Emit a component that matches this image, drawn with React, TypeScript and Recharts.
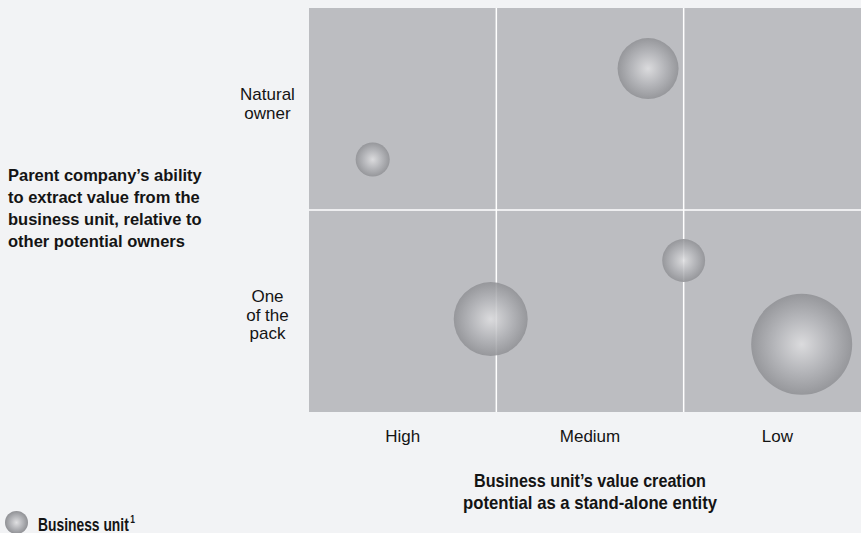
import {
  ScatterChart,
  Scatter,
  XAxis,
  YAxis,
  ZAxis,
  ReferenceArea,
  ReferenceLine,
  Legend,
  Label,
} from "recharts";

// columns: value creation potential, rows: ability to extract value
const VALUE_LEVELS: string[] = ["High", "Medium", "Low"];
const OWNER_LEVELS: string[] = ["One of the pack", "Natural owner"];

// one entry per business unit
const UNIT_VALUE_POS: number[] = [0.34, 1.81, 2.0, 0.97, 2.63];
const UNIT_OWNER_POS: number[] = [1.25, 1.7, 0.75, 0.46, 0.335];
const UNIT_SIZE: number[] = [290, 930, 460, 1370, 2550];

const PAGE_BG = "#f2f3f5";
const PLOT_BG = "#bcbdc1";
const TEXT = "#141414";
const SANS = '"Liberation Sans", Arial, sans-serif';

const data = UNIT_VALUE_POS.map((x, i) => ({
  x,
  y: UNIT_OWNER_POS[i],
  z: UNIT_SIZE[i],
}));

const MAX_Z = 3000;

const YTick = (props: any) => {
  const { x, y, payload } = props;
  const idx = Math.floor(payload.value);
  const label = OWNER_LEVELS[idx] ?? "";
  const lines = idx === 0 ? ["One", "of the", "pack"] : label.split(" ");
  return (
    <text x={x - 41.5} y={y} textAnchor="middle" fill={TEXT} fontFamily={SANS} fontSize={17}>
      {lines.map((l, i) => (
        <tspan key={i} x={x - 41.5} y={y - 9 + i * 18.5}>
          {l}
        </tspan>
      ))}
    </text>
  );
};

const YTitle = (props: any) => {
  const { viewBox } = props;
  const cy = viewBox.y + viewBox.height / 2;
  const lines = [
    "Parent company\u2019s ability",
    "to extract value from the",
    "business unit, relative to",
    "other potential owners",
  ];
  return (
    <text fill={TEXT} fontFamily={SANS} fontWeight="bold" fontSize={16.5}>
      {lines.map((l, i) => (
        <tspan key={i} x={8} y={cy - 29.3 + i * 22.2}>
          {l}
        </tspan>
      ))}
    </text>
  );
};

const XTitle = (props: any) => {
  const { viewBox } = props;
  const cx = viewBox.x + viewBox.width / 2;
  const lines = [
    { t: "Business unit\u2019s value creation", w: 232 },
    { t: "potential as a stand-alone entity", w: 254 },
  ];
  return (
    <g fill={TEXT} fontFamily={SANS} fontWeight="bold" fontSize={18.5}>
      {lines.map((l, i) => (
        <text
          key={i}
          x={cx - l.w / 2}
          y={viewBox.y + 74.7 + i * 22.6}
          textLength={l.w}
          lengthAdjust="spacingAndGlyphs"
        >
          {l.t}
        </text>
      ))}
    </g>
  );
};

const Bubble = (props: any) => {
  const { cx, cy, size } = props;
  const r = Math.sqrt(size / Math.PI);
  return <circle cx={cx} cy={cy} r={r} fill="url(#bubbleFill)" fillOpacity={0.86} />;
};

const LegendBox = () => (
  <svg width={200} height={24} style={{ display: "block", overflow: "visible" }}>
    <circle cx={11.5} cy={12.5} r={11.5} fill="url(#bubbleFill)" />
    <text
      x={33}
      y={20.5}
      fill={TEXT}
      fontFamily={SANS}
      fontWeight="bold"
      fontSize={18}
      textLength={97}
      lengthAdjust="spacingAndGlyphs"
    >
      Business unit
      <tspan dx={2} dy={-8} fontSize={11}>
        1
      </tspan>
    </text>
  </svg>
);

const App = () => {
  return (
    <div
      style={{
        position: "absolute",
        left: 0,
        top: 0,
        width: 861,
        height: 533,
        overflow: "hidden",
        background: PAGE_BG,
      }}
    >
      <ScatterChart width={871} height={533} margin={{ top: 8, right: 0, bottom: 0, left: 0 }}>
        <defs>
          <radialGradient id="bubbleFill" cx="50%" cy="50%" r="50%">
            <stop offset="0%" stopColor="#e0e0e2" />
            <stop offset="55%" stopColor="#b3b4b8" />
            <stop offset="100%" stopColor="#909195" />
          </radialGradient>
        </defs>
        <XAxis
          type="number"
          dataKey="x"
          domain={[0, VALUE_LEVELS.length]}
          ticks={VALUE_LEVELS.map((_, i) => i + 0.5)}
          tickFormatter={(v: number) => VALUE_LEVELS[Math.floor(v)]}
          axisLine={false}
          tickLine={false}
          tickSize={0}
          tickMargin={18}
          height={121}
          tick={{ fill: TEXT, fontFamily: SANS, fontSize: 17 }}
          allowDataOverflow
        >
          <Label content={<XTitle />} />
        </XAxis>
        <YAxis
          type="number"
          dataKey="y"
          domain={[0, OWNER_LEVELS.length]}
          ticks={OWNER_LEVELS.map((_, i) => i + 0.5)}
          axisLine={false}
          tickLine={false}
          tickSize={0}
          tickMargin={0}
          width={309}
          tick={<YTick />}
          allowDataOverflow
        >
          <Label content={<YTitle />} />
        </YAxis>
        <ZAxis type="number" dataKey="z" domain={[0, MAX_Z]} range={[0, MAX_Z * Math.PI]} />
        <ReferenceArea
          x1={0}
          x2={VALUE_LEVELS.length}
          y1={0}
          y2={OWNER_LEVELS.length}
          fill={PLOT_BG}
          fillOpacity={1}
          stroke="none"
        />
        <ReferenceLine x={1} stroke="#ffffff" strokeWidth={1.5} />
        <ReferenceLine x={2} stroke="#ffffff" strokeWidth={1.5} />
        <ReferenceLine y={1} stroke="#ffffff" strokeWidth={1.5} />
        <Scatter
          name="Business unit"
          data={data}
          shape={<Bubble />}
          isAnimationActive={false}
        />
        <Legend
          layout="horizontal"
          verticalAlign="middle"
          align="center"
          content={<LegendBox />}
          wrapperStyle={{ left: 5, top: 510, width: 200, height: 24 }}
        />
      </ScatterChart>
    </div>
  );
};

export default App;
